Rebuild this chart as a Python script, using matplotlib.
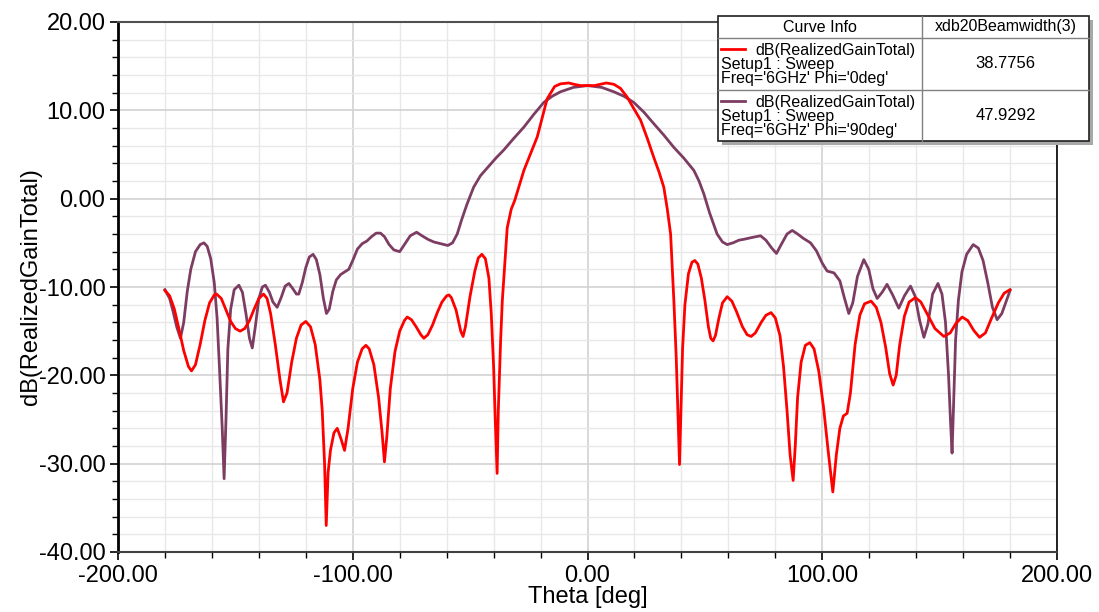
import matplotlib
matplotlib.use("Agg")
import matplotlib.pyplot as plt
from matplotlib.patches import Rectangle
from matplotlib.lines import Line2D
from matplotlib.ticker import MultipleLocator, FormatStrFormatter

plt.rcParams["font.family"] = ["Liberation Sans", "DejaVu Sans"]

# ---------- Data ----------
theta_phi0 = [
    -180, -178, -176, -174, -172, -170, -168.7, -167, -165, -163, -161, -159, -158,
    -156, -154, -152, -150, -148, -146, -144, -142, -140, -138, -136.5, -135, -133,
    -131, -129.5, -128, -126, -124, -122, -120, -118, -116, -114, -113, -112, -111.3,
    -110.5, -109.5, -108, -106.6, -105, -103.5, -102, -100, -98, -96, -94.4, -93, -91,
    -89, -87.5, -86.5, -85.5, -84, -82, -80, -78, -76.8, -75, -73, -71, -69.7, -68,
    -66, -64, -62, -60, -59, -58, -56, -54, -53, -52, -50, -48, -46.5, -45, -43.5,
    -42, -41, -40, -39.3, -38.5, -38, -37, -36.3, -35, -34.2, -32.5, -31, -27.1,
    -21.4, -17.2, -14, -11.5, -8, -5.8, -3, 0, 3, 5.5, 8, 11.2, 14, 16.9, 19.5,
    22.6, 25.5, 28.2, 30.5, 32.5, 34, 35.4, 36.8, 37.8, 38.5, 39.2, 39.8, 40.5, 41.5,
    43, 44.5, 45.7, 47, 48.5, 50, 51.5, 52.5, 53.5, 54.5, 56, 57.5, 59.5, 61.5, 63.5,
    66, 68, 69.7, 71.5, 74, 76, 78.2, 80, 82, 83.5, 85, 86.3, 87.6, 88.5, 89.5, 91,
    92.8, 94.7, 96.5, 98.5, 100.5, 102.5, 104.5, 106, 107.5, 109, 110.6, 112, 114,
    116, 118, 120.8, 123, 125, 127, 128.7, 130.2, 131.5, 133, 135, 137, 139.7, 142,
    145, 148, 151.8, 154.5, 157, 159.6, 162, 164.5, 167, 169.5, 172, 175, 177.5, 180,
]
gain_phi0 = [
    -10.4, -11.0, -12.5, -14.8, -17.2, -19.0, -19.5, -18.8, -16.5, -13.8, -11.8, -10.9, -10.8,
    -11.3, -12.6, -13.9, -14.7, -15.0, -14.7, -13.8, -12.5, -11.3, -10.8, -11.3, -13.0, -16.5,
    -20.5, -23.0, -22.0, -18.5, -15.8, -14.3, -13.9, -14.5, -16.5, -20.5, -24.0, -30.0, -37.0,
    -31.0, -28.5, -26.5, -26.0, -27.2, -28.5, -26.0, -21.5, -18.5, -17.0, -16.6, -17.0, -18.8,
    -22.5, -26.5, -29.8, -27.0, -21.5, -17.3, -15.0, -13.8, -13.4, -13.7, -14.5, -15.4, -15.8, -15.4,
    -14.3, -12.9, -11.7, -11.0, -10.9, -11.2, -12.6, -15.0, -15.6, -14.5, -11.0, -8.2, -6.7, -6.3, -6.8,
    -9.0, -13.0, -19.0, -25.0, -31.1, -24.0, -16.0, -11.6, -6.5, -3.3, -1.2, -0.2, 3.2,
    7.0, 11.3, 12.7, 13.0, 13.1, 12.95, 12.8, 12.8, 12.8, 12.95, 13.1, 12.95, 12.5, 11.5, 10.3,
    8.9, 6.8, 4.7, 3.0, 1.3, -1.2, -4.0, -11.6, -18.0, -24.0, -30.1, -24.0, -17.0, -12.0,
    -8.5, -7.2, -7.0, -7.4, -9.0, -11.5, -14.5, -15.8, -16.1, -15.5, -13.5, -11.8, -11.1, -11.6, -12.8,
    -14.5, -15.4, -15.6, -15.2, -14.0, -13.2, -12.9, -13.5, -15.5, -19.0, -24.0, -29.0, -31.9, -28.0, -22.5, -18.5,
    -16.6, -16.3, -17.0, -19.5, -23.5, -28.5, -33.2, -29.0, -26.0, -24.6, -24.3, -22.0, -16.5,
    -13.2, -11.9, -11.6, -12.3, -14.0, -16.8, -19.8, -21.1, -20.0, -16.5, -13.3, -11.7, -11.2, -11.7,
    -13.2, -14.7, -15.6, -15.2, -14.1, -13.4, -13.8, -14.9, -15.7, -15.2, -13.6, -11.8, -10.7, -10.3,
]

theta_phi90 = [
    -180, -178, -176.5, -175, -173.4, -172, -170.5, -169, -167, -165, -163.4, -162, -160.5,
    -159, -157.8, -156.8, -155.6, -154.8, -154, -153.2, -152, -150.5, -148.5, -147, -145.5,
    -144, -142.8, -141.5, -140, -138.5, -137.2, -135.5, -134, -132.2, -130.5, -128.8, -127.2,
    -125.5, -124, -123, -121.5, -120, -118.5, -116.9, -115.5, -114, -112.5, -111.2, -110,
    -108.5, -107, -105.2, -103.5, -101.7, -100, -98, -96, -94, -92, -90, -88.2, -86.5,
    -84.5, -82.5, -80, -78, -75.5, -72.8, -70.5, -68, -65.5, -62.5, -59.5, -57.5, -55.5,
    -53.5, -51.3, -48.5, -45.6, -42, -39, -35.7, -31.5, -27.1, -23, -18.6, -15, -11.5,
    -6, 0, 6, 11.2, 15.5, 19.7, 24, 28.2, 32.5, 36.8, 41, 45.3, 47.5, 49.6, 52, 55.2,
    57.5, 59.5, 62, 64.5, 66.6, 70, 73.7, 76, 78.5, 80.5, 82.5, 85, 87.2, 89.5, 92, 95,
    97.5, 100, 102.1, 105, 107.5, 109.5, 111.3, 113, 115, 117.7, 119.8, 121.6, 123.4,
    125.5, 127.6, 130, 132.6, 135, 137.6, 139.5, 141.5, 143.3, 145, 147, 149.3, 151,
    152.5, 153.8, 154.6, 155.3, 156, 156.8, 158, 159.5, 161.5, 164.3, 166.5, 168.5,
    170.5, 172.5, 174.5, 176.5, 178.5, 180,
]
gain_phi90 = [
    -10.3, -11.3, -12.8, -14.5, -15.8, -14.0, -10.5, -8.0, -6.0, -5.2, -5.0, -5.4, -6.8,
    -9.5, -13.5, -19.0, -26.0, -31.7, -25.0, -17.0, -12.5, -10.3, -9.8, -10.6, -13.0,
    -15.8, -16.9, -14.5, -11.3, -10.0, -9.8, -10.6, -11.7, -12.3, -11.2, -9.9, -9.6,
    -10.2, -10.8, -10.8, -9.5, -7.8, -6.6, -6.3, -6.9, -8.6, -11.3, -13.0, -12.5,
    -10.5, -9.2, -8.6, -8.3, -8.0, -7.0, -5.7, -5.1, -4.8, -4.3, -3.9, -3.9, -4.3,
    -5.2, -5.8, -6.0, -5.2, -4.2, -3.8, -4.2, -4.6, -4.9, -5.1, -5.3, -5.0, -4.0,
    -2.3, -0.6, 1.3, 2.6, 3.7, 4.6, 5.5, 6.8, 8.1, 9.5, 10.9, 11.6, 12.1,
    12.6, 12.8, 12.6, 12.1, 11.6, 10.9, 9.8, 8.5, 7.2, 5.8, 4.6, 3.2, 2.0, 0.5, -1.6, -4.0,
    -4.9, -5.2, -5.0, -4.7, -4.6, -4.4, -4.2, -4.7, -5.6, -6.2, -5.2, -4.0, -3.6, -4.0, -4.5, -5.0,
    -5.9, -7.3, -8.2, -8.4, -9.3, -11.3, -13.0, -11.8, -8.8, -6.9, -8.0, -10.2, -11.3,
    -10.6, -9.7, -10.9, -12.4, -11.0, -9.9, -11.0, -13.8, -15.7, -14.2, -10.8, -9.6, -10.8,
    -14.0, -20.0, -25.0, -28.8, -23.0, -16.0, -11.5, -8.3, -6.3, -5.2, -5.6, -7.0,
    -9.5, -12.3, -13.7, -13.0, -11.5, -10.4,
]

curve_names = ["dB(RealizedGainTotal)", "dB(RealizedGainTotal)"]
setup_names = ["Setup1 : Sweep", "Setup1 : Sweep"]
freq_names = ["Freq='6GHz' Phi='0deg'", "Freq='6GHz' Phi='90deg'"]
beamwidths = ["38.7756", "47.9292"]
colors = ["#ff0000", "#7d3d63"]

# ---------- Figure ----------
W, H = 1099, 612
fig = plt.figure(figsize=(W / 100, H / 100), dpi=100)
ax = fig.add_axes([118 / W, 1 - 552 / H, (1057 - 118) / W, (552 - 22) / H])

ax.plot(theta_phi90, gain_phi90, color=colors[1], lw=2.0, zorder=3)
ax.plot(theta_phi0, gain_phi0, color=colors[0], lw=2.0, zorder=4)

ax.set_xlim(-200, 200)
ax.set_ylim(-40, 20)
ax.xaxis.set_major_locator(MultipleLocator(100))
ax.xaxis.set_minor_locator(MultipleLocator(20))
ax.yaxis.set_major_locator(MultipleLocator(10))
ax.yaxis.set_minor_locator(MultipleLocator(2))
ax.xaxis.set_major_formatter(FormatStrFormatter("%.2f"))
ax.yaxis.set_major_formatter(FormatStrFormatter("%.2f"))

ax.grid(which="minor", color="#e8e8e8", lw=1.0)
ax.grid(which="major", color="#d2d2d2", lw=1.2)
ax.set_axisbelow(True)

ax.tick_params(which="major", direction="out", length=6, width=1.2, labelsize=17, pad=3)
ax.tick_params(which="minor", direction="out", length=4, width=1.0)

ax.spines["left"].set_linewidth(2.0)
ax.spines["left"].set_color("#000000")
ax.spines["bottom"].set_linewidth(1.5)
ax.spines["bottom"].set_color("#404040")
ax.spines["top"].set_linewidth(1.5)
ax.spines["top"].set_color("#505050")
ax.spines["right"].set_linewidth(1.2)
ax.spines["right"].set_color("#000000")

ax.set_xlabel("Theta [deg]", fontsize=17, labelpad=0)
ax.set_ylabel("dB(RealizedGainTotal)", fontsize=17)
ax.yaxis.set_label_coords(-0.081, 0.5)

# ---------- Curve info table ----------
def fx(x):
    return x / W


def fy(y):
    return 1 - y / H


left, right, top, bottom = 718, 1089, 16, 141
col_div = 922
rows = [16, 38, 90, 141]

fig.patches.append(Rectangle((fx(left + 4), fy(bottom + 4)), (right - left) / W, (bottom - top) / H,
                             transform=fig.transFigure, facecolor="#a8a8a8", edgecolor="none", zorder=5))
fig.patches.append(Rectangle((fx(left), fy(bottom)), (right - left) / W, (bottom - top) / H,
                             transform=fig.transFigure, facecolor="white", edgecolor="#202020", lw=1.2, zorder=6))
for y in rows[1:-1]:
    fig.add_artist(Line2D([fx(left), fx(right)], [fy(y), fy(y)], transform=fig.transFigure,
                          color="#808080", lw=1.0, zorder=7))
fig.add_artist(Line2D([fx(col_div), fx(col_div)], [fy(top), fy(bottom)], transform=fig.transFigure,
                      color="#808080", lw=1.0, zorder=7))

fs = 11.5
fig.text(fx((left + col_div) / 2), fy(27), "Curve Info", ha="center", va="center", fontsize=fs, zorder=8)
fig.text(fx((col_div + right) / 2), fy(27), "xdb20Beamwidth(3)", ha="center", va="center", fontsize=fs, zorder=8)

for i in range(2):
    y0 = rows[i + 1]
    y1 = rows[i + 2]
    fig.add_artist(Line2D([fx(721), fx(745)], [fy(y0 + 11), fy(y0 + 11)], transform=fig.transFigure,
                          color=colors[i], lw=2.0, zorder=8))
    fig.text(fx(755), fy(y0 + 12.5), curve_names[i], ha="left", va="center", fontsize=fs, zorder=8)
    fig.text(fx(721), fy(y0 + 26.5), setup_names[i], ha="left", va="center", fontsize=fs, zorder=8)
    fig.text(fx(721), fy(y0 + 40), freq_names[i], ha="left", va="center", fontsize=fs, zorder=8)
    fig.text(fx((col_div + right) / 2), fy((y0 + y1) / 2), beamwidths[i], ha="center", va="center",
             fontsize=fs + 0.5, zorder=8)

fig.savefig("out.png", dpi=100)
